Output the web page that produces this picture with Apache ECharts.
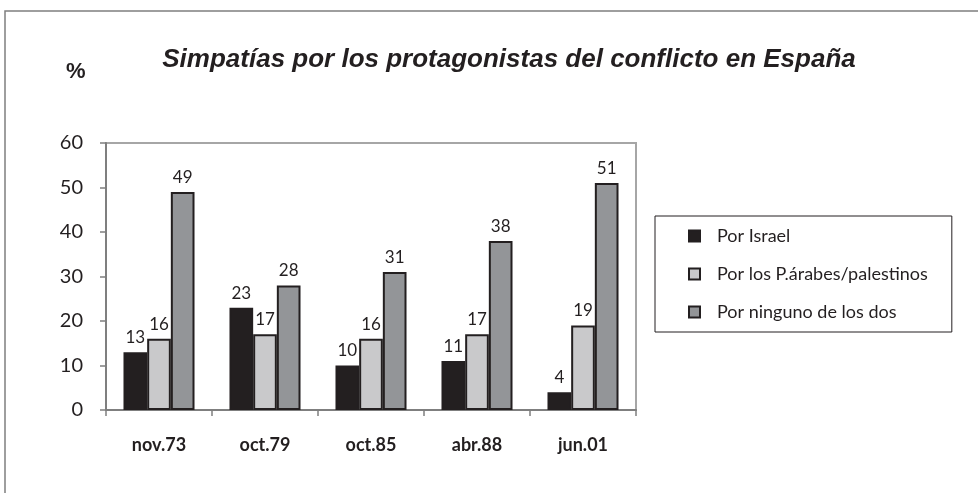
<!DOCTYPE html>
<html>
<head>
<meta charset="utf-8">
<script src="https://cdn.jsdelivr.net/npm/echarts@6/dist/echarts.min.js"></script>
<style>
  html, body { margin: 0; padding: 0; background: #fff; }
  #chart { width: 978px; height: 493px; }
</style>
</head>
<body>
<div id="chart"></div>
<script>
const categories = ['nov.73', 'oct.79', 'oct.85', 'abr.88', 'jun.01']
const porIsrael = [13, 23, 10, 11, 4]
const porArabes = [16, 17, 16, 17, 19]
const porNinguno = [49, 28, 31, 38, 51]
const seriesNames = ['Por Israel', 'Por los P.árabes/palestinos', 'Por ninguno de los dos']
const seriesColors = ['#231f20', '#c9c9cb', '#939598']

const chart = echarts.init(document.getElementById('chart'))

const labelFont = 'Lato, "DejaVu Sans", sans-serif'

function barSeries(name, data, color) {
  return {
    name,
    type: 'bar',
    data,
    barGap: '0%',
    barCategoryGap: '33%',
    itemStyle: { color, borderColor: '#231f20', borderWidth: 2 },
    label: {
      show: true,
      position: 'top',
      distance: 6,
      color: '#231f20',
      fontFamily: labelFont,
      fontSize: 17,
    },
  }
}

chart.setOption({
  animation: false,
  graphic: [
    {
      type: 'polyline',
      shape: { points: [[5, 500], [5, 11], [990, 11]] },
      style: { stroke: '#7f7f7f', lineWidth: 1.5, fill: null },
    },
    {
      type: 'text',
      left: 66,
      top: 61,
      style: {
        text: '%',
        fontFamily: '"Liberation Sans", Arial, sans-serif',
        fontWeight: 'bold',
        fontSize: 22,
        fill: '#231f20',
      },
    },
  ],
  title: {
    text: 'Simpatías por los protagonistas del conflicto en España',
    left: 504,
    textAlign: 'center',
    top: 42,
    textStyle: {
      fontFamily: '"Liberation Sans", Arial, sans-serif',
      fontStyle: 'italic',
      fontWeight: 'bold',
      fontSize: 26,
      color: '#231f20',
    },
  },
  legend: {
    orient: 'vertical',
    left: 655,
    top: 216,
    icon: 'rect',
    itemWidth: 11,
    itemHeight: 11,
    itemGap: 20,
    padding: [11, 24, 11, 33],
    borderColor: '#231f20',
    borderWidth: 1,
    textStyle: {
      fontFamily: labelFont,
      fontSize: 18,
      color: '#231f20',
      padding: [0, 0, 0, 12],
    },
    data: seriesNames,
  },
  grid: {
    left: 106,
    right: 342,
    top: 143,
    bottom: 83,
    show: true,
    borderColor: '#a6a6a6',
    borderWidth: 2,
  },
  xAxis: {
    type: 'category',
    data: categories,
    axisLine: { lineStyle: { color: '#7f7f7f', width: 2 } },
    axisTick: { show: true, length: 6, lineStyle: { color: '#7f7f7f', width: 1.5 } },
    axisLabel: {
      margin: 26,
      color: '#231f20',
      fontFamily: labelFont,
      fontWeight: 'bold',
      fontSize: 18,
    },
  },
  yAxis: {
    type: 'value',
    min: 0,
    max: 60,
    interval: 10,
    splitLine: { show: false },
    axisLine: { show: true, lineStyle: { color: '#7f7f7f', width: 2 } },
    axisTick: { show: true, length: 6, lineStyle: { color: '#7f7f7f', width: 1.5 } },
    axisLabel: {
      margin: 23,
      color: '#231f20',
      fontFamily: labelFont,
      fontSize: 20,
    },
  },
  series: [
    barSeries(seriesNames[0], porIsrael, seriesColors[0]),
    barSeries(seriesNames[1], porArabes, seriesColors[1]),
    barSeries(seriesNames[2], porNinguno, seriesColors[2]),
  ],
})
</script>
</body>
</html>
